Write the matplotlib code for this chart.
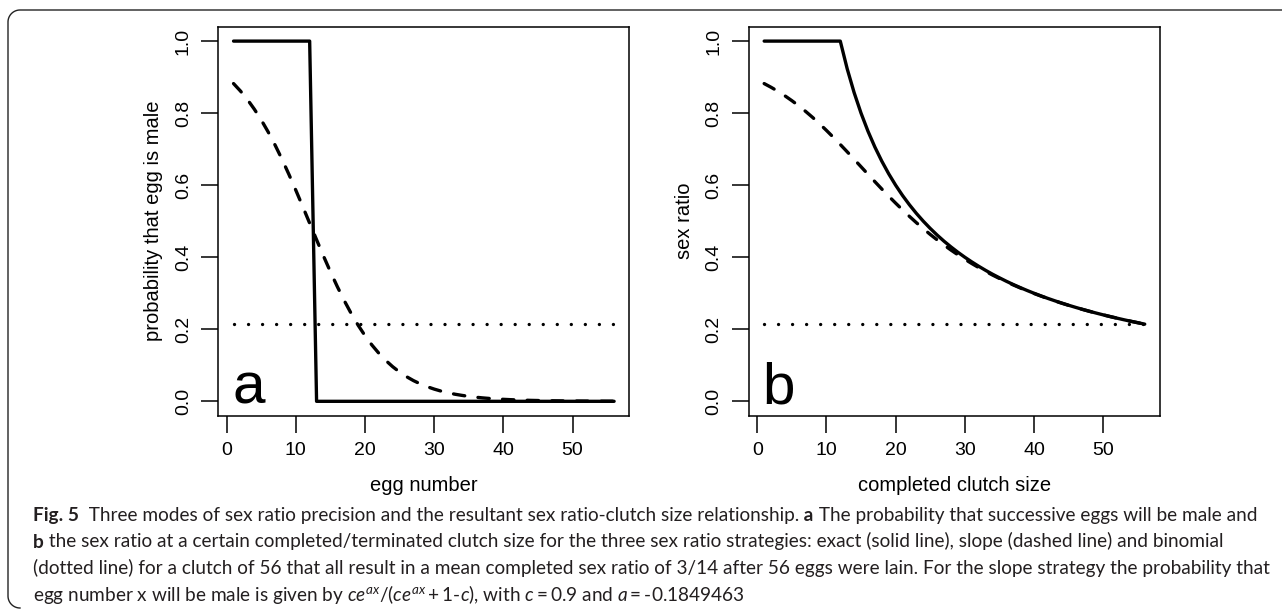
import numpy as np
import matplotlib
matplotlib.use('Agg')
import matplotlib.pyplot as plt
from matplotlib.lines import Line2D

# egg number / completed clutch size
eggs = list(range(1, 57))

# panel a: probability that egg is male
exact_a = [1.0] * 12 + [0.0] * 44
slope_a = [0.8821, 0.8614, 0.8379, 0.8111, 0.7812, 0.7479, 0.7115, 0.6721, 0.6301, 0.5861,
           0.5406, 0.4945, 0.4485, 0.4033, 0.3597, 0.3183, 0.2796, 0.2439, 0.2114, 0.1822,
           0.1562, 0.1334, 0.1134, 0.0961, 0.0812, 0.0684, 0.0575, 0.0483, 0.0405, 0.0339,
           0.0283, 0.0236, 0.0197, 0.0165, 0.0137, 0.0114, 0.0095, 0.0079, 0.0066, 0.0055,
           0.0046, 0.0038, 0.0032, 0.0026, 0.0022, 0.0018, 0.0015, 0.0013, 0.0010, 0.0009,
           0.0007, 0.0006, 0.0005, 0.0004, 0.0003, 0.0003]
binom_a = [0.2143] * 56

# panel b: sex ratio at completed clutch size
exact_b = [1.0] * 12 + [0.9231, 0.8571, 0.8000, 0.7500, 0.7059, 0.6667, 0.6316, 0.6000,
                        0.5714, 0.5455, 0.5217, 0.5000, 0.4800, 0.4615, 0.4444, 0.4286,
                        0.4138, 0.4000, 0.3871, 0.3750, 0.3636, 0.3529, 0.3429, 0.3333,
                        0.3243, 0.3158, 0.3077, 0.3000, 0.2927, 0.2857, 0.2791, 0.2727,
                        0.2667, 0.2609, 0.2553, 0.2500, 0.2449, 0.2400, 0.2353, 0.2308,
                        0.2264, 0.2222, 0.2182, 0.2143]
slope_b = [0.8821, 0.8718, 0.8605, 0.8481, 0.8347, 0.8203, 0.8047, 0.7882, 0.7706, 0.7521,
           0.7329, 0.7130, 0.6927, 0.6720, 0.6512, 0.6304, 0.6098, 0.5894, 0.5695, 0.5502,
           0.5314, 0.5133, 0.4959, 0.4793, 0.4633, 0.4482, 0.4337, 0.4199, 0.4068, 0.3944,
           0.3826, 0.3714, 0.3607, 0.3506, 0.3410, 0.3318, 0.3231, 0.3148, 0.3069, 0.2994,
           0.2922, 0.2853, 0.2788, 0.2725, 0.2665, 0.2607, 0.2552, 0.2499, 0.2448, 0.2400,
           0.2353, 0.2308, 0.2264, 0.2222, 0.2182, 0.2143]
binom_b = [0.2143] * 56

xticks = [0, 10, 20, 30, 40, 50]
yticks = [0.0, 0.2, 0.4, 0.6, 0.8, 1.0]
ytick_labels = ['0.0', '0.2', '0.4', '0.6', '0.8', '1.0']

# caption lines as (text, bold) pieces
caption = [
    [('Fig. 5', True), ('  Three modes of sex ratio precision and the resultant sex ratio-clutch size relationship.', False),
     (' a', True), (' The probability that successive eggs will be male and', False)],
    [('b', True), (' the sex ratio at a certain completed/terminated clutch size for the three sex ratio strategies: '
                   'exact (solid line), slope (dashed line) and binomial', False)],
    [('(dotted line) for a clutch of 56 that all result in a mean completed sex ratio of 3/14 after 56 eggs were lain. '
      'For the slope strategy the probability that', False)],
    [(r'egg number x will be male is given by $ce^{ax}$/($ce^{ax}+$1-$c$), with $c=0.9$ and $a=$-0.1849463', False)],
]

cap_font = 'Lato'
plt.rcParams['font.family'] = ['Liberation Sans', 'DejaVu Sans']
plt.rcParams['mathtext.fontset'] = 'custom'
plt.rcParams['mathtext.rm'] = cap_font
plt.rcParams['mathtext.it'] = cap_font + ':italic'

W, H = 1282, 611
fig = plt.figure(figsize=(W / 100, H / 100), dpi=100)

lw = 2.4
dash = (0, (3.4, 4.0))
dot = (0, (0.01, 4.2))


def panel(left, y_exact, y_slope, y_binom, xlabel, ylabel, letter):
    ax = fig.add_axes([left, 0.3196, 0.3206, 0.6367])
    ax.plot(eggs, y_exact, color='black', lw=lw, solid_capstyle='round')
    ax.plot(eggs, y_slope, color='black', lw=lw, linestyle=dash, dash_capstyle='round')
    ax.plot(eggs, y_binom, color='black', lw=lw, linestyle=dot, dash_capstyle='round')
    ax.set_xlim(-1.2, 58.2)
    ax.set_ylim(-0.04, 1.04)
    ax.set_xticks(xticks)
    ax.set_xticklabels([str(t) for t in xticks])
    ax.set_yticks(yticks)
    ax.set_yticklabels(ytick_labels, rotation=90, va='center')
    ax.tick_params(length=12, width=1.1, labelsize=14, pad=7)
    for s in ax.spines.values():
        s.set_linewidth(1.1)
    ax.set_xlabel(xlabel, fontsize=14.5, labelpad=12)
    ax.set_ylabel(ylabel, fontsize=14.5, labelpad=8.5)
    ax.text(0.8, -0.005, letter, fontsize=42, ha='left', va='baseline')
    return ax


panel(0.1703, exact_a, slope_a, binom_a, 'egg number', 'probability that egg is male', 'a')
panel(0.5842, exact_b, slope_b, binom_b, 'completed clutch size', 'sex ratio', 'b')

# rounded frame on top and left
r = 12
t1 = np.linspace(np.pi / 2, np.pi, 20)
t2 = np.linspace(np.pi, 1.5 * np.pi, 20)
px = np.concatenate([[W], 20 + r * np.cos(t1), 20 + r * np.cos(t2)])
py = np.concatenate([[10], 22 - r * np.sin(t1), 596 - r * np.sin(t2)])
fig.add_artist(Line2D(px / W, 1 - py / H, color='#222222', lw=1.0,
                      transform=fig.transFigure))

# caption, pieces placed one after another; size chosen so the widest line ends near 1272 px
renderer = fig.canvas.get_renderer()


def put_line(line, y, size):
    x = 33
    arts = []
    for s, bold in line:
        t = fig.text(x / W, y, s, fontsize=size, family=cap_font,
                     fontweight='bold' if bold else 'normal',
                     color='#231f20', ha='left', va='baseline')
        arts.append(t)
        x += t.get_window_extent(renderer).width
    return x, arts


widest = 0
for line in caption:
    end, tmp = put_line(line, 0.5, 12)
    widest = max(widest, end - 33)
    for t in tmp:
        t.remove()
size = 12 * 1238 / widest
for i, line in enumerate(caption):
    put_line(line, 1 - (521 + 26.5 * i) / H, size)

fig.savefig('out.png', dpi=100)
